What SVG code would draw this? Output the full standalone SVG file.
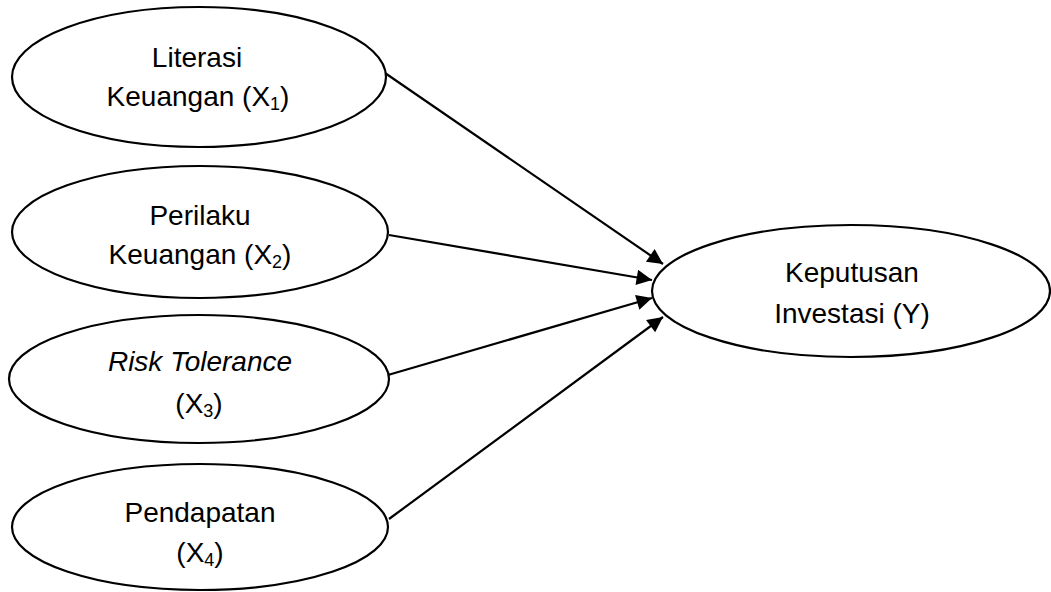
<svg xmlns="http://www.w3.org/2000/svg" width="1051" height="592" viewBox="0 0 1051 592">
<style>
.node ellipse{fill:#fff;stroke:#000;stroke-width:2.2}
text{font-family:"Liberation Sans",Arial,sans-serif;font-size:28px;fill:#000;text-anchor:middle}
.sub{font-size:18px}
.conn line{stroke:#000;stroke-width:2.2}
</style>
<defs>
<marker id="arr" viewBox="0 0 10 10" refX="10" refY="5" markerWidth="8.5" markerHeight="7" markerUnits="strokeWidth" orient="auto">
<path d="M0,0 L10,5 L0,10 z" fill="#000"/>
</marker>
</defs>
<rect width="1051" height="592" fill="#fff"/>
<g id="connectors" class="conn">
<line x1="385" y1="73" x2="663" y2="264" marker-end="url(#arr)"/>
<line x1="389" y1="235" x2="652" y2="280" marker-end="url(#arr)"/>
<line x1="388" y1="375" x2="652" y2="298" marker-end="url(#arr)"/>
<line x1="389" y1="519" x2="663" y2="317" marker-end="url(#arr)"/>
</g>
<g id="x1" class="node">
<ellipse cx="199" cy="77" rx="187" ry="70"/>
<text x="197" y="67">Literasi</text>
<text x="198" y="106">Keuangan (X<tspan class="sub" dy="4">1</tspan><tspan dy="-4">)</tspan></text>
</g>
<g id="x2" class="node">
<ellipse cx="200" cy="232" rx="188" ry="66"/>
<text x="200" y="225">Perilaku</text>
<text x="200" y="264">Keuangan (X<tspan class="sub" dy="4">2</tspan><tspan dy="-4">)</tspan></text>
</g>
<g id="x3" class="node">
<ellipse cx="199" cy="379" rx="190" ry="64"/>
<text x="200" y="371" font-style="italic">Risk Tolerance</text>
<text x="199" y="413">(X<tspan class="sub" dy="4">3</tspan><tspan dy="-4">)</tspan></text>
</g>
<g id="x4" class="node">
<ellipse cx="200" cy="527" rx="188" ry="63"/>
<text x="200" y="522">Pendapatan</text>
<text x="200" y="562">(X<tspan class="sub" dy="4">4</tspan><tspan dy="-4">)</tspan></text>
</g>
<g id="y" class="node">
<ellipse cx="851" cy="291" rx="199" ry="66"/>
<text x="852" y="282">Keputusan</text>
<text x="852" y="323">Investasi (Y)</text>
</g>
</svg>
